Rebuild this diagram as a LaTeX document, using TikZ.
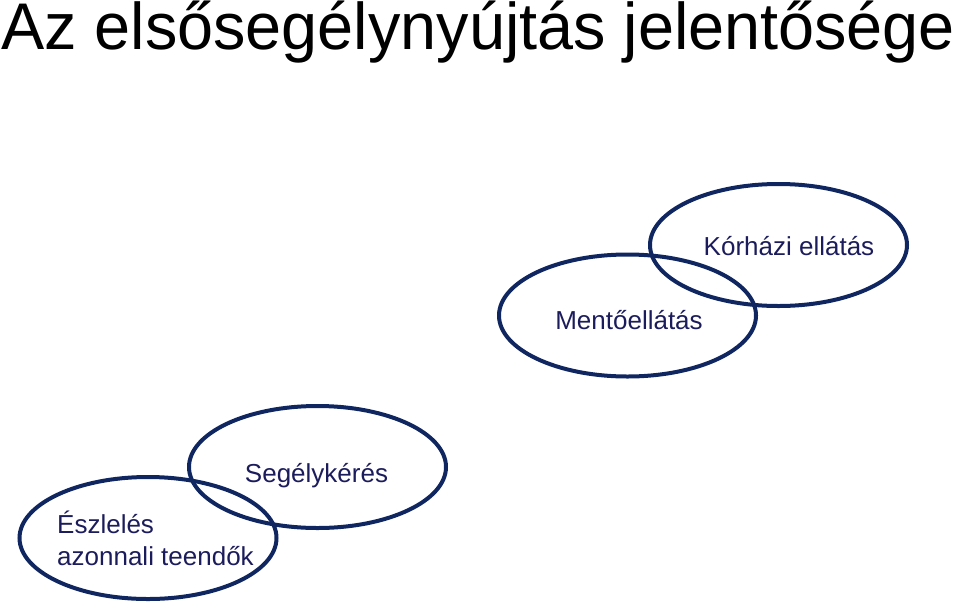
\documentclass[tikz,border=0pt]{standalone}
\usepackage{fontspec}
\usepackage{graphicx}
\setmainfont{Liberation Sans}
\usetikzlibrary{shapes.geometric}
\definecolor{navyline}{HTML}{0F2660}
\definecolor{navytext}{HTML}{1C1C5C}
\tikzset{
  oval/.style={ellipse, draw=navyline, line width=4pt, minimum width=257pt, minimum height=122pt, inner sep=0pt},
  lbl/.style={text=navytext, font=\fontsize{26}{32}\selectfont, inner sep=0pt},
}
\begin{document}
\begin{tikzpicture}[x=1pt,y=-1pt]
\useasboundingbox (0,0) rectangle (960,608);
\node[anchor=base west, inner sep=0pt, font=\fontsize{66}{72}\selectfont] (title) at (1,49)
  {\resizebox{954pt}{\height}{Az elsősegélynyújtás jelentősége}};
\node[oval] (e1) at (148,538) {};
\node[oval] (e2) at (317.5,467) {};
\node[oval] (e3) at (627.5,315.5) {};
\node[oval] (e4) at (778.5,245) {};
\node[lbl, anchor=base west, align=left] (t1) at (57,565) {Észlelés\\azonnali teendők};
\node[lbl, anchor=base] (t2) at (316.5,482) {Segélykérés};
\node[lbl, anchor=base] (t3) at (629,329) {Mentőellátás};
\node[lbl, anchor=base] (t4) at (789,255) {Kórházi ellátás};
\end{tikzpicture}
\end{document}
